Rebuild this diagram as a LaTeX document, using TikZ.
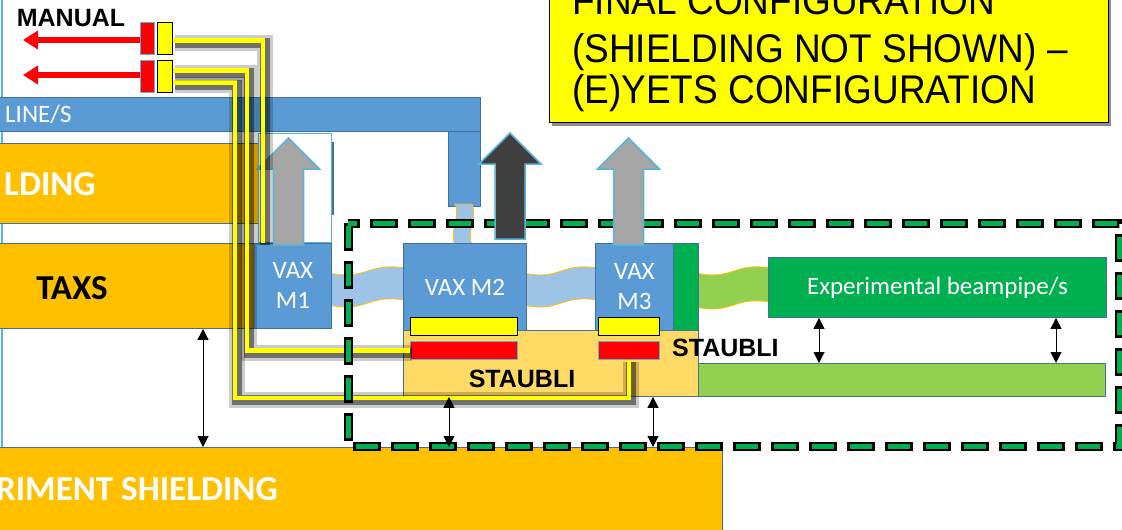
\documentclass[tikz,border=0pt]{standalone}
\usepackage{fontspec}
\setmainfont{Carlito}
\newfontfamily\arialfont{Liberation Sans}
\usetikzlibrary{arrows.meta,calc}
\definecolor{vaxblue}{HTML}{5B9BD5}
\definecolor{edgeblue}{HTML}{41719C}
\definecolor{shieldorange}{HTML}{FFC000}
\definecolor{staubliorange}{HTML}{FFD966}
\definecolor{pipegreen}{HTML}{00B050}
\definecolor{benchgreen}{HTML}{92D050}
\definecolor{bellowblue}{HTML}{9DC3E6}
\definecolor{ventedge}{HTML}{5BB4D9}
\definecolor{ventgrey}{HTML}{A5A5A5}
\definecolor{ventdark}{HTML}{404040}
\definecolor{plugred}{HTML}{FF0000}
\definecolor{plugyellow}{HTML}{FFFF00}
\tikzset{
  slab/.style={rectangle, draw=edgeblue, line width=0.9pt, inner sep=0pt,
               anchor=north west},
  bluebox/.style={slab, fill=vaxblue, text=white, align=center,
                  font=\fontsize{25}{30}\selectfont},
  shieldbox/.style={slab, fill=shieldorange},
  staublibox/.style={slab, fill=staubliorange},
  greenbox/.style={slab, fill=pipegreen, text=white,
                   font=\fontsize{25}{30}\selectfont},
  benchbox/.style={slab, fill=benchgreen},
  yellowplug/.style={rectangle, draw=black, line width=1.2pt, fill=plugyellow,
                     inner sep=0pt, anchor=north west},
  redplug/.style={rectangle, draw=ventedge, line width=1.2pt, fill=plugred,
                  inner sep=0pt, anchor=north west},
  shieldlabel/.style={text=white, font=\fontsize{35}{40}\selectfont\bfseries,
                      inner sep=0pt},
  taxslabel/.style={text=black, font=\fontsize{35}{40}\selectfont\bfseries,
                    inner sep=0pt},
  linelabel/.style={text=white, font=\fontsize{25}{30}\selectfont, inner sep=0pt},
  armlabel/.style={text=black, font=\arialfont\fontsize{25}{30}\selectfont\bfseries,
                   inner sep=0pt},
  cfgbox/.style={rectangle, draw=black, line width=1pt, fill=plugyellow,
                 inner sep=0pt, anchor=south west},
  cfgtext/.style={font=\arialfont\fontsize{40}{41}\selectfont, inner sep=0pt,
                  anchor=base west, xscale=0.925, transform shape},
  gaparrow/.style={{Triangle[length=11pt,width=11pt]}-{Triangle[length=11pt,width=11pt]},
                   line width=1pt},
  manualarrow/.style={-{Triangle[length=15pt,width=18pt]}, draw=plugred,
                      line width=6pt},
  cable/.style={draw=plugyellow, line width=4.5pt,
                preaction={draw=black, opacity=0.2, line width=16pt,
                           transform canvas={xshift=2pt, yshift=-2pt}},
                preaction={draw=black, opacity=0.45, line width=10pt,
                           transform canvas={xshift=2pt, yshift=-2pt}}},
  dashblack/.style={draw=black, line width=9pt, dash pattern=on 28pt off 10pt},
  dashgreen/.style={draw=pipegreen, line width=5pt,
                    dash pattern=on 22pt off 16pt, dash phase=35pt},
}
% x centre, tip y, foot y, fill
\newcommand\ventarrow[4]{%
  \filldraw[draw=ventedge, line width=1.5pt, fill=#4] (#1,#2) -- ({#1+31},{#2+31})
    -- ({#1+15},{#2+31}) -- ({#1+15},#3) -- ({#1-15},#3) -- ({#1-15},{#2+31})
    -- ({#1-31},{#2+31}) -- cycle;}
% left x, right x, top y, bottom y, fill
\newcommand\bellow[5]{%
  \filldraw[fill=#5, draw=shieldorange, line width=0.8pt] (#1,{#3+5})
    .. controls ({(#1+#2)/2},{#3+13}) and ({(#1+#2)/2},{#3-6}) .. (#2,#3)
    -- (#2,#4) .. controls ({(#1+#2)/2},{#4-6}) and ({(#1+#2)/2},{#4+13}) .. (#1,{#4+5})
    -- cycle;}

\begin{document}
\begin{tikzpicture}[x=1pt, y=-1pt]
  \clip (0,0) rectangle (1122,530);
  \fill[white] (0,0) rectangle (1122,530);
  \draw[ventedge, line width=1.5pt] (2,0) -- (2,468);

  % beam line and shielding blocks
  \node[bluebox, minimum width=32, minimum height=75] (drop) at (448,131) {};
  \node[bluebox, minimum width=490, minimum height=34] (beamline) at (-10,97) {};
  \node[linelabel, anchor=west] (linelbl) at (5,114) {LINE/S};
  \node[shieldbox, minimum width=265, minimum height=80] (shieldup) at (-7,143) {};
  \node[shieldlabel, anchor=west] (shielduplbl) at (4,184) {LDING};
  \node[shieldbox, minimum width=261, minimum height=85] (taxs) at (-7,243) {};
  \node[taxslabel] (taxslbl) at (72,288) {TAXS};
  \node[shieldbox, minimum width=729, minimum height=100] (expshield) at (-7,447) {};
  \node[shieldlabel, anchor=west] (expshieldlbl) at (-4,489) {RIMENT SHIELDING};
  \node[slab, draw=ventedge, fill=white, minimum width=73, minimum height=109]
    (ventbay) at (258,133) {};
  \draw[edgeblue, line width=1.2pt] (333,142) -- (333,215);

  % bellows
  \bellow{329}{405}{268}{300}{bellowblue}
  \bellow{524}{597}{268}{300}{bellowblue}
  \bellow{696}{770}{268}{302}{benchgreen}
  \filldraw[fill=bellowblue, draw=shieldorange, line width=0.8pt] (455,204) -- (472,204)
    .. controls (478,218) and (466,230) .. (472,245) -- (455,245)
    .. controls (449,230) and (461,218) .. (455,204) -- cycle;

  % vacuum modules
  \node[staublibox, minimum width=295, minimum height=66] (staubli) at (403,330) {};
  \node[bluebox, minimum width=77, minimum height=85] (vaxA) at (254,243) {VAX\\M1};
  \node[bluebox, minimum width=123, minimum height=87] (vaxB) at (403,243) {VAX M2};
  \node[bluebox, minimum width=78, minimum height=87] (vaxC) at (595,243) {VAX\\M3};
  \node[greenbox, minimum width=25, minimum height=87] (endcap) at (673,243) {};
  \node[greenbox, minimum width=338, minimum height=60] (beampipe) at (768,257)
    {Experimental beampipe/s};
  \node[benchbox, minimum width=407, minimum height=33] (bench) at (698,363) {};

  % plugs
  \node[yellowplug, minimum width=107, minimum height=18] (ylB) at (410,317) {};
  \node[redplug, minimum width=107, minimum height=18] (rdB) at (410,341) {};
  \node[yellowplug, minimum width=61, minimum height=18] (ylC) at (598,317) {};
  \node[redplug, minimum width=61, minimum height=18] (rdC) at (598,341) {};
  \node[armlabel] (staublilbl) at (522,379) {STAUBLI};
  \node[armlabel, anchor=west] (staublilblB) at (672,348) {STAUBLI};

  % manual side
  \coordinate (mt1) at (23,40);
  \coordinate (mt2) at (23,75);
  \node[redplug, minimum width=14, minimum height=32] (rdM1) at (140,22) {};
  \node[redplug, minimum width=14, minimum height=32] (rdM2) at (140,60) {};
  \draw[manualarrow] (rdM1.west |- mt1) -- (mt1);
  \draw[manualarrow] (rdM2.west |- mt2) -- (mt2);
  \node[yellowplug, minimum width=15, minimum height=32] (ylM1) at (157,22) {};
  \node[yellowplug, minimum width=15, minimum height=32] (ylM2) at (157,60) {};
  \node[armlabel] (manuallbl) at (71,18) {MANUAL};

  \ventarrow{288.5}{138}{245}{ventgrey}

  % cables
  \coordinate (xa) at (263,0);
  \coordinate (xb) at (247,0);
  \coordinate (xc) at (235,0);
  \coordinate (yl) at (0,398);
  \draw[cable] ([yshift=-6pt]ylM2.east) -| (xc |- yl) -| (rdC.south);
  \draw[cable] ([yshift=6pt]ylM2.east) -| (xb |- rdB.west) -- (rdB.west);
  \draw[cable] ([yshift=-2pt]ylM1.east) -| (xa |- vaxA.north);

  % interface zone
  \draw[dashblack] (348,223) rectangle (1119,446);
  \draw[dashgreen] (348,223) rectangle (1119,446);

  \ventarrow{510}{133}{239}{ventdark}
  \ventarrow{628.5}{138}{245}{ventgrey}

  % clearances
  \coordinate (gA) at (203,0);
  \coordinate (gB) at (449,0);
  \coordinate (gC) at (653,0);
  \coordinate (gD) at (819,0);
  \coordinate (gE) at (1056,0);
  \draw[gaparrow] (gA |- taxs.south) -- (gA |- expshield.north);
  \draw[gaparrow] (gB |- staubli.south) -- (gB |- expshield.north);
  \draw[gaparrow] (gC |- staubli.south) -- (gC |- expshield.north);
  \draw[gaparrow] (gD |- beampipe.south) -- (gD |- bench.north);
  \draw[gaparrow] (gE |- beampipe.south) -- (gE |- bench.north);

  % note
  \fill[black!45] (552,-60) rectangle (1111,126);
  \node[cfgbox, minimum width=559, minimum height=190] (cfg) at (549,123) {};
  \node[cfgtext] (cfgA) at (572,14) {FINAL CONFIGURATION};
  \node[cfgtext] (cfgB) at (572,62) {(SHIELDING NOT SHOWN) –};
  \node[cfgtext] (cfgC) at (572,103) {(E)YETS CONFIGURATION};
\end{tikzpicture}
\end{document}
